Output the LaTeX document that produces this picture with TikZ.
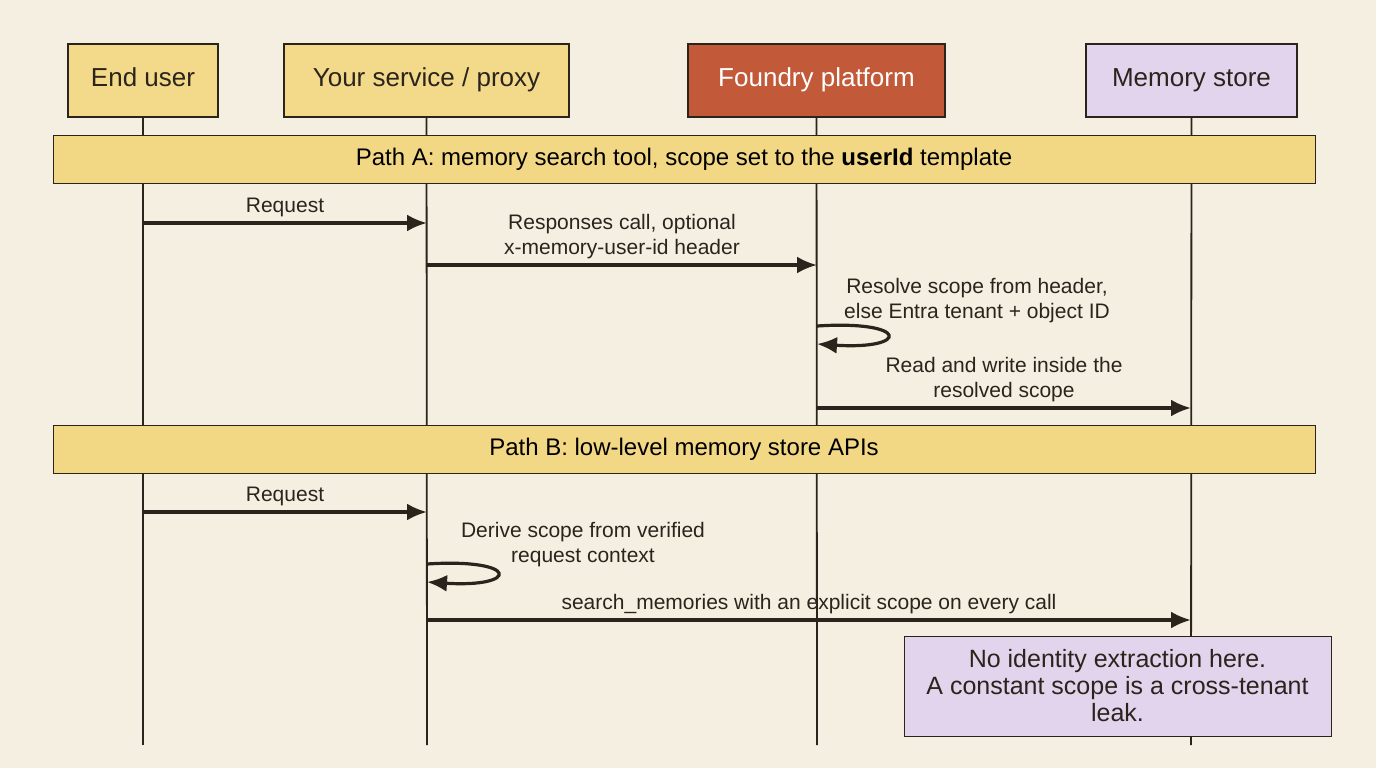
\documentclass[tikz,border=0pt]{standalone}
\usepackage{fontspec}
\setmainfont{Liberation Sans}
\usetikzlibrary{arrows.meta,positioning,calc}
\definecolor{bgcol}{HTML}{F4EFE1}
\definecolor{actoryellow}{HTML}{F3DA8A}
\definecolor{bandyellow}{HTML}{F2D784}
\definecolor{foundryred}{HTML}{C25A3A}
\definecolor{storepurple}{HTML}{E2D4EC}
\definecolor{inkcol}{HTML}{2A241C}
\tikzset{
    actor/.style={draw=inkcol, line width=1.4pt, minimum height=73pt, text height=18pt, text depth=5pt, font=\fontsize{26}{30}\selectfont, text=inkcol},
    band/.style={draw=inkcol, line width=1pt, fill=bandyellow, minimum height=48pt, minimum width=1262pt, font=\fontsize{24}{28}\selectfont},
    lifeline/.style={draw=inkcol, line width=1.8pt},
    msg/.style={draw=inkcol, line width=3.2pt, -{Latex[length=20pt,width=17pt]}},
    lbl/.style={font=\fontsize{21}{25}\selectfont, text=inkcol, align=center, inner sep=1pt}
}
\begin{document}
\begin{tikzpicture}[x=1pt,y=-1pt]
        \fill[bgcol] (0,0) rectangle (1376,768);
        \useasboundingbox (0,0) rectangle (1376,768);

        % Actors
        \node[actor, fill=actoryellow, minimum width=150pt] (user) at (143, 80.5) {End user};
        \node[actor, fill=actoryellow, minimum width=285pt] (service) at (426.5, 80.5) {Your service / proxy};
        \node[actor, fill=foundryred, minimum width=257pt, text=white] (foundry) at (816.5, 80.5) {Foundry platform};
        \node[actor, fill=storepurple, minimum width=211pt] (store) at (1191.5, 80.5) {Memory store};

        % Lifelines
        \foreach \a/\x in {user/143, service/427, foundry/817, store/1191} {
            \coordinate (\a_end) at (\x, 745);
            \draw[lifeline] (\a) -- (\a_end);
        }

        % Path A
        \node[band] (pathA) at (684, 159) {Path A: memory search tool, scope set to the \textbf{userId} template};

        \coordinate (a1_s) at (143, 223);
        \coordinate (a1_e) at (427, 223);
        \draw[msg] (a1_s) -- (a1_e) node[lbl, midway, above=4pt] {Request};

        \coordinate (a2_s) at (427, 265);
        \coordinate (a2_e) at (817, 265);
        \draw[msg] (a2_s) -- (a2_e) node[lbl, midway, above=4pt] {Responses call, optional\\x-memory-user-id header};

        \coordinate (a3_s) at (817, 326);
        \coordinate (a3_e) at (817, 344);
        \draw[msg] (a3_s) .. controls (910, 320) and (910, 350) .. (a3_e);
        \node[lbl, anchor=south west] (a3_lbl) at (843, 324) {Resolve scope from header,\\else Entra tenant + object ID};

        \coordinate (a4_s) at (817, 408);
        \coordinate (a4_e) at (1191, 408);
        \draw[msg] (a4_s) -- (a4_e);
        \node[lbl, anchor=south] (a4_lbl) at (1004, 403) {Read and write inside the\\resolved scope};

        % Path B
        \node[band] (pathB) at (684, 449.5) {Path B: low-level memory store APIs};

        \coordinate (b1_s) at (143, 512);
        \coordinate (b1_e) at (427, 512);
        \draw[msg] (b1_s) -- (b1_e) node[lbl, midway, above=4pt] {Request};

        \coordinate (b2_s) at (427, 564);
        \coordinate (b2_e) at (427, 582);
        \draw[msg] (b2_s) .. controls (520, 558) and (520, 588) .. (b2_e);
        \node[lbl, anchor=south] (b2_lbl) at (583, 568) {Derive scope from verified\\request context};

        \coordinate (b3_s) at (427, 620);
        \coordinate (b3_e) at (1191, 620);
        \draw[msg] (b3_s) -- (b3_e) node[lbl, pos=0.5, above=4pt] {search\_memories with an explicit scope on every call};

        % Note
        \node[draw=inkcol, line width=1pt, fill=storepurple, minimum width=427pt, minimum height=100pt,
              font=\fontsize{25}{27}\selectfont, align=center, text=inkcol] (note) at (1117.5, 686)
              {No identity extraction here.\\A constant scope is a cross-tenant\\leak.};
\end{tikzpicture}
\end{document}
